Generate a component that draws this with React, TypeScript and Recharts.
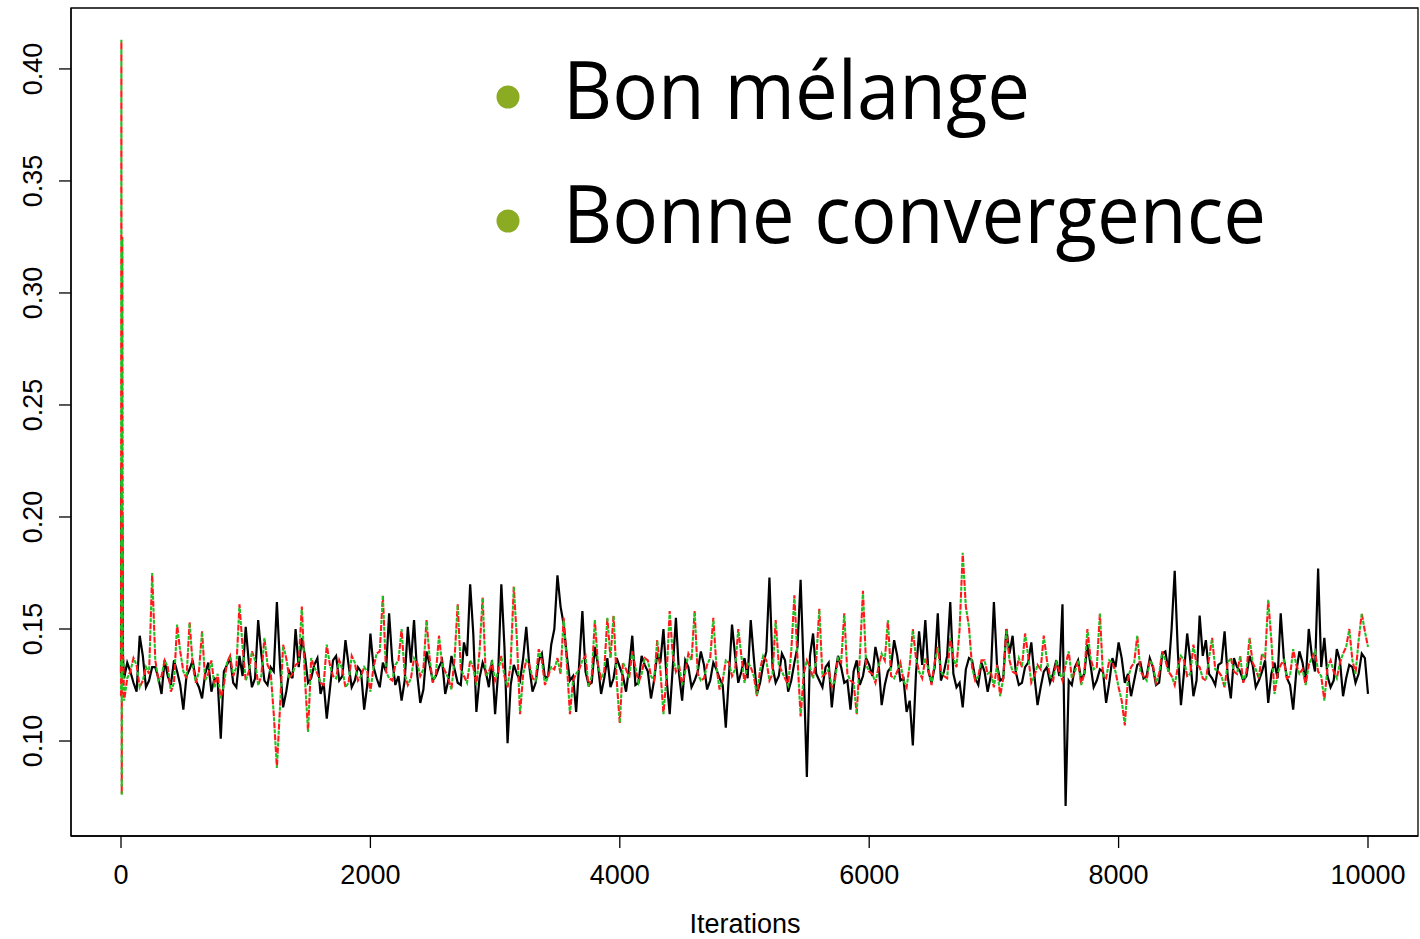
import React from "react";
import { LineChart, Line, XAxis, YAxis, ReferenceArea } from "recharts";

// Iteration grid (x categories): burn-in start, then every 25 iterations
const iterations: number[] = [0, 3, 6, 10, 15, ...Array.from({ length: 400 }, (_, i) => (i + 1) * 25)];

// Chain 1 (black, solid)
const chain1: number[] = [
  0.130, 0.222, 0.150, 0.200, 0.138,
  0.128,0.135, 0.131,0.126, 0.122,0.147, 0.138,0.124, 0.127,0.133, 0.133,0.128, 0.121,0.136, 0.129,0.125, 0.136,0.131, 0.125,0.114,
  0.129,0.132, 0.136,0.127, 0.124,0.119, 0.130,0.135, 0.122,0.128, 0.127,0.101, 0.131,0.134, 0.137,0.126, 0.124,0.138, 0.129,0.151,
  0.135,0.124, 0.128,0.154, 0.139,0.127, 0.125,0.133, 0.131,0.162, 0.134,0.115, 0.122,0.131, 0.128,0.150, 0.133,0.146, 0.138,0.126,
  0.128,0.134, 0.137,0.121, 0.126,0.110, 0.123,0.136, 0.138,0.127, 0.129,0.145, 0.134,0.124, 0.127,0.133, 0.131,0.114, 0.125,0.148,
  0.133,0.128, 0.124,0.135, 0.131,0.157, 0.136,0.125, 0.129,0.118, 0.127,0.151, 0.135,0.154, 0.130,0.117, 0.123,0.140, 0.134,0.127,
  0.129,0.133, 0.136,0.121, 0.127,0.138, 0.132,0.126, 0.125,0.144, 0.138,0.170, 0.148,0.113, 0.128,0.135, 0.131,0.124, 0.136,0.112,
  0.131,0.170, 0.142,0.099, 0.125,0.134, 0.130,0.127, 0.137,0.151, 0.133,0.122, 0.126,0.136, 0.139,0.128, 0.129,0.143, 0.150,0.174,
  0.160,0.152, 0.138,0.127, 0.129,0.113, 0.135,0.158, 0.131,0.125, 0.126,0.142, 0.134,0.121, 0.128,0.137, 0.124,0.128, 0.137,0.133,
  0.129,0.122, 0.133,0.147, 0.125,0.126, 0.138,0.134, 0.131,0.119, 0.127,0.139, 0.135,0.150, 0.128,0.112, 0.133,0.155, 0.130,0.118,
  0.136,0.133, 0.124,0.127, 0.131,0.140, 0.134,0.123, 0.127,0.135, 0.132,0.128, 0.125,0.106, 0.129,0.152, 0.138,0.126, 0.131,0.137,
  0.128,0.154, 0.137,0.121, 0.126,0.134, 0.140,0.173, 0.133,0.126, 0.129,0.139, 0.136,0.122, 0.127,0.135, 0.142,0.172, 0.131,0.084,
  0.138,0.148, 0.130,0.127, 0.124,0.133, 0.135,0.115, 0.129,0.138, 0.133,0.126, 0.127,0.114, 0.131,0.136, 0.125,0.129, 0.137,0.134,
  0.129,0.142, 0.135,0.116, 0.125,0.131, 0.133,0.145, 0.138,0.127, 0.128,0.113, 0.118,0.098, 0.130,0.149, 0.134,0.154, 0.131,0.126,
  0.133,0.157, 0.127,0.131, 0.138,0.162, 0.130,0.124, 0.126,0.115, 0.132,0.137, 0.136,0.128, 0.125,0.135, 0.131,0.122, 0.129,0.162,
  0.134,0.127, 0.128,0.150, 0.139,0.147, 0.131,0.125, 0.126,0.133, 0.135,0.144, 0.129,0.116, 0.124,0.131, 0.133,0.126, 0.130,0.136,
  0.129,0.161, 0.071,0.127, 0.125,0.133, 0.136,0.127, 0.130,0.143, 0.134,0.124, 0.127,0.132, 0.131,0.117, 0.126,0.137, 0.133,0.144,
  0.137,0.126, 0.130,0.120, 0.127,0.134, 0.135,0.128, 0.129,0.137, 0.133,0.125, 0.126,0.139, 0.140,0.131, 0.150,0.176, 0.140,0.116,
  0.131,0.148, 0.136,0.120, 0.127,0.156, 0.138,0.145, 0.130,0.128, 0.125,0.134, 0.135,0.149, 0.129,0.119, 0.137,0.133, 0.131,0.127,
  0.129,0.138, 0.134,0.124, 0.127,0.131, 0.136,0.117, 0.130,0.135, 0.128,0.157, 0.137,0.128, 0.125,0.114, 0.131,0.140, 0.135,0.126,
  0.150,0.138, 0.131,0.177, 0.133,0.146, 0.129,0.124, 0.127,0.141, 0.136,0.120, 0.128,0.134, 0.133,0.126, 0.130,0.139, 0.137,0.121,
];

// Chains 2 & 3 (red dashed / green dotted, overlapping)
const chain2: number[] = [
  0.120, 0.413, 0.076, 0.325, 0.145,
  0.118,0.128, 0.131,0.137, 0.134,0.124, 0.127,0.133, 0.130,0.175, 0.136,0.127, 0.129,0.136, 0.133,0.122, 0.126,0.152, 0.140,0.131,
  0.128,0.153, 0.134,0.126, 0.131,0.149, 0.127,0.130, 0.136,0.124, 0.130,0.119, 0.125,0.135, 0.138,0.129, 0.133,0.161, 0.142,0.127,
  0.131,0.140, 0.136,0.125, 0.129,0.146, 0.134,0.131, 0.112,0.088, 0.115,0.143, 0.137,0.128, 0.130,0.134, 0.135,0.160, 0.128,0.104,
  0.137,0.133, 0.130,0.126, 0.125,0.143, 0.134,0.129, 0.128,0.136, 0.132,0.124, 0.126,0.138, 0.135,0.127, 0.129,0.133, 0.131,0.122,
  0.133,0.139, 0.140,0.165, 0.131,0.128, 0.127,0.134, 0.136,0.150, 0.130,0.125, 0.128,0.137, 0.135,0.129, 0.132,0.154, 0.137,0.126,
  0.130,0.147, 0.134,0.131, 0.128,0.123, 0.137,0.161, 0.132,0.129, 0.126,0.136, 0.133,0.125, 0.140,0.164, 0.129,0.131, 0.135,0.127,
  0.131,0.138, 0.129,0.124, 0.135,0.169, 0.145,0.112, 0.130,0.136, 0.134,0.128, 0.127,0.141, 0.136,0.125, 0.129,0.133, 0.132,0.137,
  0.130,0.155, 0.135,0.112, 0.127,0.130, 0.132,0.136, 0.138,0.124, 0.129,0.154, 0.134,0.128, 0.131,0.155, 0.137,0.156, 0.127,0.108,
  0.135,0.132, 0.128,0.140, 0.133,0.126, 0.130,0.137, 0.136,0.129, 0.127,0.145, 0.132,0.112, 0.129,0.158, 0.138,0.131, 0.134,0.125,
  0.131,0.139, 0.136,0.158, 0.130,0.127, 0.128,0.134, 0.137,0.155, 0.133,0.123, 0.127,0.136, 0.135,0.129, 0.132,0.150, 0.138,0.126,
  0.135,0.133, 0.129,0.120, 0.132,0.138, 0.136,0.127, 0.130,0.154, 0.134,0.131, 0.128,0.125, 0.140,0.165, 0.137,0.111, 0.130,0.136,
  0.133,0.128, 0.136,0.159, 0.129,0.130, 0.132,0.124, 0.127,0.137, 0.135,0.157, 0.130,0.127, 0.126,0.112, 0.138,0.167, 0.134,0.131,
  0.130,0.126, 0.133,0.139, 0.136,0.154, 0.129,0.128, 0.131,0.135, 0.127,0.124, 0.134,0.150, 0.137,0.131, 0.128,0.137, 0.132,0.125,
  0.135,0.142, 0.131,0.129, 0.128,0.146, 0.137,0.133, 0.150,0.184, 0.160,0.151, 0.133,0.127, 0.129,0.136, 0.136,0.130, 0.131,0.124,
  0.134,0.120, 0.128,0.150, 0.136,0.131, 0.130,0.137, 0.133,0.148, 0.138,0.126, 0.129,0.134, 0.132,0.147, 0.136,0.129, 0.127,0.135,
  0.131,0.127, 0.134,0.140, 0.128,0.131, 0.136,0.125, 0.130,0.150, 0.137,0.132, 0.133,0.157, 0.129,0.128, 0.136,0.135, 0.131,0.124,
  0.118,0.107, 0.128,0.133, 0.135,0.147, 0.131,0.129, 0.127,0.136, 0.134,0.126, 0.130,0.140, 0.136,0.131, 0.129,0.125, 0.133,0.138,
  0.136,0.129, 0.130,0.143, 0.134,0.133, 0.128,0.127, 0.137,0.146, 0.132,0.131, 0.129,0.124, 0.135,0.137, 0.131,0.130, 0.138,0.126,
  0.131,0.146, 0.135,0.132, 0.128,0.139, 0.137,0.163, 0.145,0.121, 0.130,0.134, 0.136,0.128, 0.129,0.141, 0.134,0.130, 0.132,0.125,
  0.134,0.137, 0.140,0.131, 0.129,0.118, 0.133,0.136, 0.131,0.128, 0.135,0.139, 0.142,0.150, 0.136,0.130, 0.145,0.157, 0.149,0.142,
];

const xTicks = [0, 2000, 4000, 6000, 8000, 10000];
const yTicks = [0.1, 0.15, 0.2, 0.25, 0.3, 0.35, 0.4];
const xDomain: [number, number] = [-401, 10401];
const yDomain: [number, number] = [0.0576, 0.4272];

const bullets = ["Bon mélange", "Bonne convergence"];

const data = iterations.map((it, i) => ({ iter: it, c1: chain1[i], c2: chain2[i] }));

const AXIS_FONT = "'Liberation Sans', Arial, Helvetica, sans-serif";

const XTick = (props: any) => {
  const { x, y, payload } = props;
  return (
    <text x={x} y={y + 32} textAnchor="middle" fontFamily={AXIS_FONT} fontSize={27} fill="#000">
      {String(payload.value)}
    </text>
  );
};

const YTick = (props: any) => {
  const { x, y, payload } = props;
  return (
    <text
      x={x}
      y={y}
      transform={`rotate(-90, ${x}, ${y})`}
      textAnchor="middle"
      fontFamily={AXIS_FONT}
      fontSize={27}
      fill="#000"
    >
      {Number(payload.value).toFixed(2)}
    </text>
  );
};

export default function App() {
  return (
    <div style={{ position: "fixed", left: 0, top: 0, width: 1420, height: 939, background: "#fff" }}>
      <LineChart width={1420} height={939} data={data} margin={{ top: 8, right: 2, left: 0, bottom: 0 }}>
        <XAxis
          dataKey="iter"
          type="number"
          domain={xDomain}
          ticks={xTicks}
          allowDataOverflow
          height={103}
          tickSize={12}
          tickMargin={4}
          stroke="#000"
          axisLine={{ stroke: "#000", strokeWidth: 1.3 }}
          tickLine={{ stroke: "#000", strokeWidth: 1.3 }}
          tick={<XTick />}
          interval={0}
        />
        <YAxis
          type="number"
          domain={yDomain}
          ticks={yTicks}
          allowDataOverflow
          width={71}
          tickSize={12}
          tickMargin={17}
          stroke="#000"
          axisLine={{ stroke: "#000", strokeWidth: 1.3 }}
          tickLine={{ stroke: "#000", strokeWidth: 1.3 }}
          tick={<YTick />}
          interval={0}
        />
        <ReferenceArea
          x1={xDomain[0]}
          x2={xDomain[1]}
          y1={yDomain[0]}
          y2={yDomain[1]}
          fill="none"
          fillOpacity={0}
          stroke="#000"
          strokeWidth={1.3}
          ifOverflow="visible"
        />
        <Line type="linear" dataKey="c1" stroke="#000" strokeWidth={2.2} dot={false} isAnimationActive={false} />
        <Line
          type="linear"
          dataKey="c2"
          stroke="#ff1a1a"
          strokeWidth={2.1}
          strokeDasharray="6 6"
          dot={false}
          isAnimationActive={false}
        />
        <Line
          type="linear"
          dataKey="c2"
          stroke="#1fc01f"
          strokeWidth={2.1}
          strokeDasharray="4 8"
          strokeDashoffset={-7}
          dot={false}
          isAnimationActive={false}
        />
      </LineChart>
      <svg
        width={1420}
        height={939}
        style={{ position: "absolute", left: 0, top: 0, pointerEvents: "none" }}
      >
        <circle cx={508} cy={97} r={11.5} fill="#8aab22" />
        <circle cx={508} cy={221} r={11.5} fill="#8aab22" />
        <text
          x={563}
          y={119}
          fontFamily="'Open Sans', 'Noto Sans', sans-serif"
          fontSize={80}
          textLength={467}
          lengthAdjust="spacingAndGlyphs"
          fill="#000"
        >
          {bullets[0]}
        </text>
        <text
          x={563}
          y={243}
          fontFamily="'Open Sans', 'Noto Sans', sans-serif"
          fontSize={80}
          textLength={703}
          lengthAdjust="spacingAndGlyphs"
          fill="#000"
        >
          {bullets[1]}
        </text>
        <text x={745} y={933} textAnchor="middle" fontFamily={AXIS_FONT} fontSize={27} fill="#000">
          Iterations
        </text>
      </svg>
    </div>
  );
}
